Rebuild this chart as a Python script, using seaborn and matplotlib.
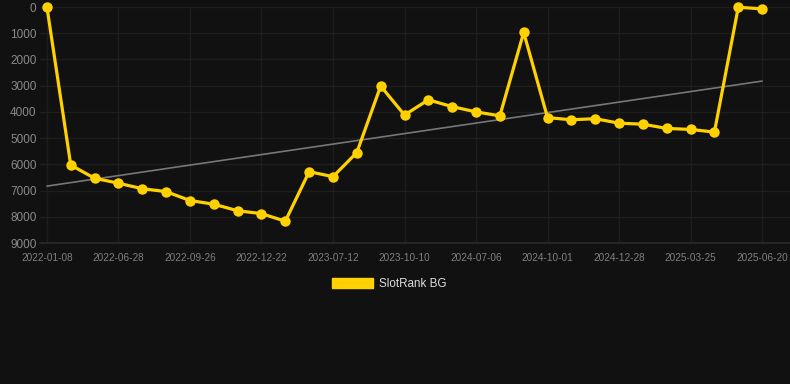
"""
SlotRank BG history chart: rank over time with a linear trend line.
"""

import matplotlib.pyplot as plt
import numpy as np
import pandas as pd
import seaborn as sns
from matplotlib.patches import Patch

# Ranks, one point per snapshot (lower is better)
ranks = [
    0, 6030, 6530, 6720, 6930, 7040, 7380, 7520, 7770, 7880,
    8170, 6280, 6470, 5550, 3015, 4120, 3540, 3800, 4000, 4150,
    970, 4220, 4300, 4260, 4430, 4470, 4630, 4670, 4770, 10,
    70,
]

# Labels shown on every third point
tick_labels = [
    "2022-01-08", "2022-06-28", "2022-09-26", "2022-12-22", "2023-07-12",
    "2023-10-10", "2024-07-06", "2024-10-01", "2024-12-28", "2025-03-25",
    "2025-06-20",
]

# Trend line end values (first and last snapshot)
trend_values = [6830, 2825]

series_name = "SlotRank BG"

BG = "#111111"
GOLD = "#FFD100"
GRID = "#1e1e1e"

sns.set_theme(style="dark")
plt.rcParams["font.family"] = ["Liberation Sans", "DejaVu Sans"]

df = pd.DataFrame({"idx": np.arange(len(ranks)), "rank": ranks})

fig = plt.figure(figsize=(7.9, 3.84), dpi=100, facecolor=BG)
ax = fig.add_axes([40 / 790, 141 / 384, 750 / 790, 236 / 384])
ax.set_facecolor(BG)

# trend line, drawn under the series
ax.plot([df["idx"].iloc[0], df["idx"].iloc[-1]], trend_values,
        color="#777777", lw=1.2, zorder=2)

sns.lineplot(data=df, x="idx", y="rank", ax=ax, color=GOLD, lw=2.3,
             marker="o", markersize=7.5, markeredgewidth=0, zorder=3,
             clip_on=False)

ax.set_xlim(-0.29, len(ranks) - 1 + 1.17)
ax.set_ylim(9000, 0)
ax.set_yticks(range(0, 9001, 1000))
ax.set_xticks(df["idx"].iloc[::3])
ax.set_xticklabels(tick_labels)

ax.grid(True, color=GRID, lw=1)
ax.tick_params(axis="y", length=0, pad=2.5, labelsize=8.5, labelcolor="#8a8a8a")
ax.tick_params(axis="x", length=0, pad=7, labelsize=7.2, labelcolor="#808080")
ax.set_xlabel("")
ax.set_ylabel("")
for side in ["top", "right", "left"]:
    ax.spines[side].set_visible(False)
ax.spines["bottom"].set_color("#2a2a2a")

handle = Patch(facecolor=GOLD, edgecolor=GOLD)
fig.legend([handle], [series_name], loc="center",
           bbox_to_anchor=(0.493, 0.26), frameon=False, fontsize=8.4,
           labelcolor="#dddddd", handlelength=3.5, handleheight=0.85,
           handletextpad=0.5)

fig.savefig("out.png", dpi=100, facecolor=BG)
